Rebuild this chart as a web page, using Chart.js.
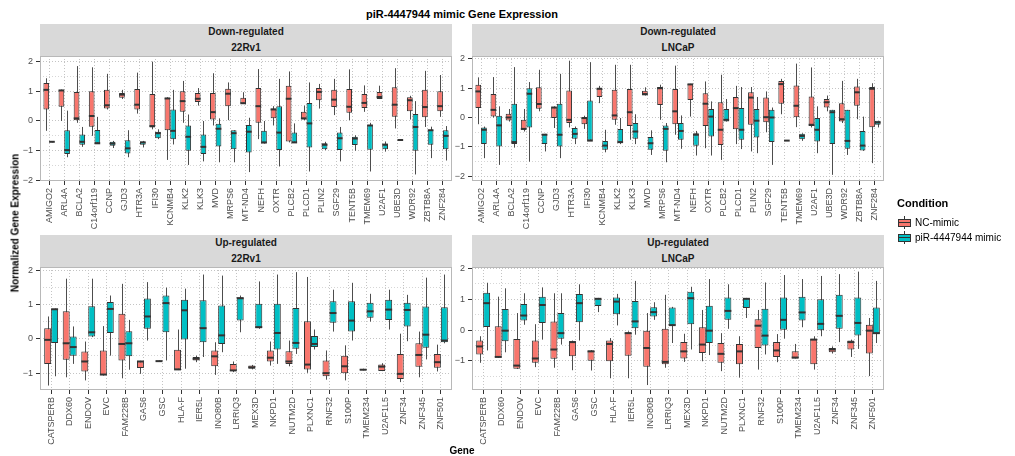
<!DOCTYPE html>
<html><head><meta charset="utf-8"><title>piR-4447944 mimic Gene Expression</title>
<script src="https://cdn.jsdelivr.net/npm/chart.js@4.4.1/dist/chart.umd.min.js"></script>
<style>
html,body{margin:0;padding:0;background:#fff;}
#fig{position:relative;width:1015px;height:456px;overflow:hidden;background:#fff;font-family:"Liberation Sans",Arial,sans-serif;color:#000;}
#fig canvas{position:absolute;}
.title{position:absolute;left:40px;width:844px;top:7px;text-align:center;font-weight:bold;font-size:11px;line-height:14px;}
.strip{position:absolute;width:412px;height:32px;background:#d9d9d9;text-align:center;font-weight:bold;font-size:10px;color:#1a1a1a;}
.strip div{height:16px;line-height:16px;}
.ytitle{position:absolute;left:15px;top:223px;transform:translate(-50%,-50%) rotate(-90deg);white-space:nowrap;font-weight:bold;font-size:10px;}
.xtitle{position:absolute;left:462px;top:450px;transform:translate(-50%,-50%);font-weight:bold;font-size:10px;}
.lgtitle{position:absolute;left:897px;top:196px;font-weight:bold;font-size:11px;line-height:14px;}
.key{position:absolute;left:897px;width:15px;height:15px;}
.key .wh{position:absolute;left:7px;top:1px;width:1px;height:13px;background:#333;}
.key .bx{position:absolute;left:1px;top:4px;width:11px;height:6px;border:1px solid #333;}
.key .md{position:absolute;left:1px;top:7px;width:13px;height:1px;background:#333;}
.lglab{position:absolute;left:915px;font-size:10px;line-height:15px;color:#000;white-space:nowrap;}
</style></head>
<body>
<div id="fig">
  <div class="title">piR-4447944 mimic Gene Expression</div>
  <div class="strip" style="left:40px;top:24px"><div>Down-regulated</div><div>22Rv1</div></div>
  <div class="strip" style="left:472px;top:24px"><div>Down-regulated</div><div>LNCaP</div></div>
  <div class="strip" style="left:40px;top:235px"><div>Up-regulated</div><div>22Rv1</div></div>
  <div class="strip" style="left:472px;top:235px"><div>Up-regulated</div><div>LNCaP</div></div>
  <canvas id="cTL"></canvas>
  <canvas id="cTR"></canvas>
  <canvas id="cBL"></canvas>
  <canvas id="cBR"></canvas>
  <div class="ytitle">Normalized Gene Expression</div>
  <div class="xtitle">Gene</div>
  <div class="lgtitle">Condition</div>
  <div class="key" style="top:215px"><div class="wh"></div><div class="bx" style="background:#F8766D"></div><div class="md"></div></div>
  <div class="lglab" style="top:215px">NC-mimic</div>
  <div class="key" style="top:230px"><div class="wh"></div><div class="bx" style="background:#00BFC4"></div><div class="md"></div></div>
  <div class="lglab" style="top:230px">piR-4447944 mimic</div>
</div>
<script>
// ---------------- DATA ----------------
const conditions = ['NC-mimic', 'piR-4447944 mimic'];
const conditionColors = ['#F8766D', '#00BFC4'];
const downGenes = ['AMIGO2','ARL4A','BCLA2','C14orf119','CCNP','GJD3','HTR3A','IFI30','KCNMB4','KLK2','KLK3','MVD','MRPS6','MT-ND4','NEFH','OXTR','PLCB2','PLCD1','PLIN2','SGF29','TENT5B','TMEM69','U2AF1','UBE3D','WDR92','ZBTB8A','ZNF284'];
const upGenes = ['CATSPERB','DDX60','ENDOV','EVC','FAM228B','GAS6','GSC','HLA-F','IER5L','INO80B','LRRIQ3','MEX3D','NKPD1','NUTM2D','PLXNC1','RNF32','S100P','TMEM234','U2AF1L5','ZNF34','ZNF345','ZNF501'];
const yTickValues = [-2,-1.5,-1,-0.5,0,0.5,1,1.5,2];

// box statistics per gene: [min, q1, median, q3, max]
const down22Rv1_NC = [
 [-0.34,0.38,1.04,1.27,1.43],[-0.01,0.47,1.02,1.04,1.05],[-0.07,0.02,0.08,0.97,1.84],[-0.51,-0.2,0.16,0.99,1.8],
 [0.38,0.41,0.52,1.04,1.58],[0.73,0.77,0.88,0.93,1.04],[0.24,0.38,0.54,1.07,1.62],[-0.29,-0.23,-0.18,0.9,1.99],
 [-1.32,-0.32,0.75,0.77,0.79],[-0.07,0.3,0.66,0.99,1.34],[0.51,0.63,0.74,0.93,1.1],[-0.16,0.04,0.29,0.93,1.6],
 [0.02,0.49,0.91,1.08,1.29],[0.57,0.58,0.59,0.77,0.96],[-0.62,-0.07,0.49,1.1,1.74],[-0.16,0.08,0.38,0.41,0.49],
 [-0.73,-0.7,0.74,1.18,1.66],[0.02,0.04,0.08,0.3,0.51],[0.41,0.69,0.97,1.1,1.24],[0.19,0.46,0.71,1.04,1.41],
 [0.02,0.27,0.47,1.07,1.73],[0.3,0.43,0.6,0.9,1.19],[0.73,0.73,0.8,0.97,1.18],[-0.26,0.13,0.54,1.13,1.77],
 [0.04,0.32,0.69,0.79,0.84],[-0.21,0.12,0.46,1.04,1.68],[0.13,0.32,0.49,0.99,1.54]];
const down22Rv1_PI = [
 [-0.73,-0.72,-0.71,-0.7,-0.69],[-1.23,-1.12,-0.99,-0.32,0.34],[-0.88,-0.81,-0.71,-0.46,-0.21],[-0.77,-0.76,-0.76,-0.31,0.13],
 [-0.92,-0.84,-0.77,-0.71,-0.68],[-1.23,-1.1,-0.93,-0.66,-0.32],[-0.9,-0.81,-0.73,-0.7,-0.68],[-0.62,-0.59,-0.42,-0.37,-0.29],
 [-0.8,-0.62,-0.34,0.38,1.04],[-1.49,-1.01,-0.54,-0.16,0.21],[-1.37,-1.12,-0.88,-0.46,-0.01],[-1.4,-0.87,-0.27,-0.1,0.08],
 [-1.4,-0.96,-0.42,-0.32,-0.32],[-1.73,-1.07,-0.37,-0.14,0.1],[-0.77,-0.77,-0.73,-0.34,-0.01],[-1.54,-0.99,-0.4,0.49,1.41],
 [-0.73,-0.73,-0.73,-0.4,-0.09],[-1.71,-0.9,-0.09,0.6,1.29],[-0.99,-0.96,-0.81,-0.76,-0.71],[-1.37,-0.99,-0.59,-0.4,-0.21],
 [-1.01,-0.82,-0.6,-0.54,-0.49],[-1.71,-0.98,-0.16,-0.14,-0.07],[-1.04,-0.96,-0.81,-0.77,-0.7],[-0.67,-0.66,-0.65,-0.64,-0.63],
 [-1.81,-1.01,-0.21,0.23,0.66],[-1.26,-0.81,-0.32,-0.31,-0.2],[-1.34,-0.96,-0.51,-0.32,-0.18]];
const downLNCaP_NC = [
 [-0.23,0.32,0.89,1.12,1.37],[0,0.03,0.26,0.8,1.38],[-0.14,-0.1,0,0.13,0.29],[-0.48,-0.42,-0.39,-0.08,0.29],
 [0.21,0.3,0.46,1.03,1.63],[-0.36,-0.02,0.34,0.35,0.38],[-0.34,-0.19,-0.08,0.92,1.94],[-0.39,-0.23,-0.02,0.01,0.06],
 [0.49,0.7,0.98,1.0,1.08],[-0.25,-0.08,0.07,0.95,1.8],[-0.76,-0.29,0.18,0.97,1.8],[0.75,0.75,0.8,0.91,1.03],
 [-0.08,0.43,1.0,1.04,1.12],[-0.59,-0.23,0.21,0.97,1.77],[0.03,0.6,1.13,1.14,1.15],[-1.05,-0.29,0.47,0.83,1.23],
 [-1.45,-0.94,-0.42,0.52,1.46],[-0.91,-0.4,0.32,0.7,1.08],[-1.16,-0.25,0.68,0.86,1.04],[-0.5,-0.16,0.01,0.68,0.89],
 [0.11,0.47,1.14,1.25,1.32],[-0.33,0.01,0.4,1.09,1.84],[-0.34,-0.29,-0.25,0.72,1.71],[0.21,0.34,0.52,0.63,0.75],
 [-0.19,-0.14,-0.06,0.49,1.25],[-0.06,0.4,0.86,1.06,1.32],[-1.56,-0.33,0.98,1.04,1.17]];
const downLNCaP_PI = [
 [-1.39,-0.91,-0.42,-0.34,-0.31],[-1.62,-0.99,-0.27,0.06,0.38],[-1.03,-0.91,-0.84,0.47,1.72],[-1.51,-0.34,0.81,1.0,1.21],
 [-1.16,-0.91,-0.59,-0.56,-0.56],[-1.39,-0.99,-0.59,0.47,1.49],[-0.91,-0.73,-0.56,-0.36,-0.31],[-0.8,-0.79,-0.79,0.58,1.89],
 [-1.19,-1.1,-0.96,-0.8,-0.42],[-0.91,-0.88,-0.84,-0.39,-0.02],[-0.91,-0.73,-0.48,-0.19,0.11],[-1.28,-1.1,-0.88,-0.67,-0.44],
 [-1.53,-1.14,-0.39,-0.27,-0.19],[-1.07,-0.76,-0.46,-0.19,0.07],[-1.3,-0.97,-0.59,-0.54,-0.46],[-1.3,-0.65,0.03,0.29,0.55],
 [-0.14,-0.14,-0.08,0.29,0.63],[-1.08,-0.76,-0.42,0.32,1.04],[-1.22,-0.68,-0.11,0.29,0.7],[-1.62,-0.84,0,0.26,0.34],
 [-0.8,-0.79,-0.79,-0.78,-0.77],[-0.8,-0.74,-0.63,-0.56,-0.54],[-1.22,-0.82,-0.42,-0.02,0.38],[-1.96,-0.91,0.18,0.26,0.26],
 [-1.28,-1.07,-0.8,0.26,0.26],[-1.14,-1.13,-0.96,-0.46,0.03],[-0.34,-0.25,-0.17,-0.11,-0.11]];
const up22Rv1_NC = [
 [-1.36,-0.73,-0.03,0.31,0.65],[-1.12,-0.61,-0.13,0.8,1.75],[-1.21,-0.95,-0.66,-0.37,-0.08],[-1.07,-1.05,-1.04,-0.34,0.37],
 [-1.15,-0.63,-0.15,0.73,1.6],[-1.02,-0.85,-0.66,-0.65,-0.64],[-0.67,-0.66,-0.65,-0.64,-0.63],[-0.91,-0.9,-0.89,-0.32,0.27],
 [-0.68,-0.63,-0.58,-0.53,-0.49],[-1.05,-0.8,-0.51,-0.34,-0.1],[-0.97,-0.94,-0.92,-0.73,-0.66],[-0.89,-0.87,-0.83,-0.78,-0.76],
 [-0.78,-0.66,-0.55,-0.34,-0.08],[-0.8,-0.73,-0.66,-0.36,-0.05],[-0.99,-0.89,-0.75,0.51,1.8],[-1.19,-1.09,-1.0,-0.63,-0.34],
 [-1.21,-1.0,-0.8,-0.49,-0.19],[-0.92,-0.91,-0.9,-0.88,-0.87],[-0.94,-0.94,-0.81,-0.75,-0.71],[-1.26,-1.17,-1.02,-0.44,0.15],
 [-1.12,-0.81,-0.47,-0.13,0.21],[-0.95,-0.84,-0.68,-0.44,-0.17]];
const up22Rv1_PI = [
 [-1.09,-0.12,0.86,0.87,0.88],[-0.73,-0.49,-0.24,0.07,0.36],[0.05,0.07,0.19,0.95,1.75],[-0.49,0.17,0.87,1.07,1.26],
 [-0.9,-0.51,-0.13,0.22,0.55],[-0.05,0.29,0.65,1.17,1.65],[-0.63,0.19,1.04,1.26,1.49],[-0.87,-0.02,0.83,1.14,1.46],
 [-0.53,-0.1,0.31,1.12,1.87],[-0.39,-0.15,0.1,0.97,1.84],[0.19,0.53,1.18,1.21,1.26],[0.29,0.31,0.34,1.02,1.67],
 [-0.73,-0.31,0.17,1.02,1.87],[-0.44,-0.29,-0.12,0.9,1.94],[-0.31,-0.24,-0.15,0.08,0.27],[0.21,0.47,0.75,1.09,1.43],
 [-0.05,0.21,0.53,1.09,1.63],[0.5,0.61,0.8,1.05,1.31],[0.27,0.55,0.85,1.14,1.43],[-0.07,0.36,0.84,1.05,1.28],
 [-0.6,-0.26,0.12,0.94,1.78],[-0.13,-0.1,-0.05,0.92,1.87]];
const upLNCaP_NC = [
 [-1.06,-0.79,-0.53,-0.34,-0.2],[-0.9,-0.88,-0.87,0.12,1.08],[-1.26,-1.25,-1.15,-0.29,0.55],[-1.2,-1.06,-0.92,-0.34,0.19],
 [-1.22,-0.93,-0.63,0.28,1.19],[-1.3,-0.85,-0.39,-0.36,-0.34],[-1.31,-0.99,-0.69,-0.66,-0.65],[-1.56,-1.01,-0.45,-0.34,-0.26],
 [-1.56,-0.83,-0.1,-0.08,-0.04],[-1.78,-1.19,-0.58,-0.02,0.55],[-1.22,-1.11,-1.03,0.04,1.14],[-1.03,-0.92,-0.69,-0.39,-0.12],
 [-1.01,-0.74,-0.47,0.09,0.65],[-1.33,-1.06,-0.77,-0.42,-0.1],[-1.54,-1.11,-0.69,-0.45,-0.2],[-1.28,-0.58,0.14,0.35,0.65],
 [-1.04,-0.87,-0.66,-0.39,-0.13],[-0.92,-0.92,-0.89,-0.69,-0.45],[-1.28,-1.11,-0.31,-0.28,-0.2],[-0.76,-0.72,-0.63,-0.58,-0.53],
 [-0.87,-0.63,-0.39,-0.34,-0.31],[-1.49,-0.76,-0.02,0.17,0.39]];
const upLNCaP_PI = [
 [-0.66,0.1,0.87,1.21,1.53],[-0.72,-0.36,-0.02,0.68,1.35],[0.17,0.31,0.47,0.84,1.19],[-0.31,0.23,0.81,1.08,1.38],
 [-0.47,-0.28,-0.1,0.55,1.19],[-0.34,0.25,0.87,1.17,1.48],[0.58,0.78,1.01,1.03,1.04],[0.15,0.51,0.92,1.05,1.17],
 [-0.15,0.06,0.28,0.94,1.59],[0.33,0.44,0.58,0.74,0.9],[-0.42,0.14,0.16,0.73,0.75],[-0.63,0.19,1.03,1.24,1.4],
 [-0.81,-0.42,-0.02,0.79,1.65],[0.04,0.33,0.62,1.05,1.48],[0.39,0.71,1.01,1.03,1.04],[-0.79,-0.5,-0.18,0.69,1.54],
 [-0.28,0.01,0.33,1.05,1.78],[0.09,0.31,0.57,1.08,1.65],[-0.2,-0.01,0.2,1.0,1.75],[-0.39,0.04,0.46,1.14,1.81],
 [-0.61,-0.18,0.23,1.05,1.89],[-0.42,-0.12,-0.1,0.73,1.59]];

// ---------------- LAYOUT ----------------
const panels = [
  {id:'cTL', genes:downGenes, nc:down22Rv1_NC, pi:down22Rv1_PI, yMin:-2.03, yMax:2.18, left:0,   top:46,  areaH:125, xAxisH:52},
  {id:'cTR', genes:downGenes, nc:downLNCaP_NC, pi:downLNCaP_PI, yMin:-2.17, yMax:2.10, left:432, top:46,  areaH:125, xAxisH:52},
  {id:'cBL', genes:upGenes,   nc:up22Rv1_NC,   pi:up22Rv1_PI,   yMin:-1.49, yMax:2.09, left:0,   top:257, areaH:123, xAxisH:62},
  {id:'cBR', genes:upGenes,   nc:upLNCaP_NC,   pi:upLNCaP_PI,   yMin:-1.94, yMax:2.04, left:432, top:257, areaH:123, xAxisH:62}
];
const AXIS_W = 40, PAD_TOP = 10, PAD_RIGHT = 10, AREA_W = 412;

Chart.defaults.font.family = '"Liberation Sans", Arial, sans-serif';

const framePlugin = {
  id: 'frame',
  afterDraw(chart) {
    const a = chart.chartArea, c = chart.ctx;
    c.save();
    c.strokeStyle = '#b8b8b8';
    c.lineWidth = 1;
    c.strokeRect(Math.round(a.left) + 0.5, Math.round(a.top) + 0.5, Math.round(a.right - a.left) - 1, Math.round(a.bottom - a.top) - 1);
    c.restore();
  }
};

const boxPlugin = {
  id: 'boxparts',
  beforeDatasetsDraw(chart) {
    const c = chart.ctx, ys = chart.scales.y;
    c.save();
    c.strokeStyle = '#4d4d4d';
    c.lineWidth = 1;
    chart.data.datasets.forEach((ds, di) => {
      chart.getDatasetMeta(di).data.forEach((bar, i) => {
        const s = ds.stats[i];
        const x = Math.round(bar.x) + 0.5;
        c.beginPath();
        c.moveTo(x, ys.getPixelForValue(s[0]));
        c.lineTo(x, ys.getPixelForValue(s[4]));
        c.stroke();
      });
    });
    c.restore();
  },
  afterDatasetsDraw(chart) {
    const c = chart.ctx, ys = chart.scales.y;
    c.save();
    c.strokeStyle = '#333333';
    c.lineWidth = 2;
    chart.data.datasets.forEach((ds, di) => {
      chart.getDatasetMeta(di).data.forEach((bar, i) => {
        const s = ds.stats[i];
        const y = ys.getPixelForValue(s[2]);
        c.beginPath();
        c.moveTo(bar.x - bar.width / 2, y);
        c.lineTo(bar.x + bar.width / 2, y);
        c.stroke();
      });
    });
    c.restore();
  }
};

function fmtY(v) {
  if (!Number.isInteger(v)) return '';
  return v < 0 ? '\u2212' + (-v) : String(v);
}

function makeChart(p) {
  const cv = document.getElementById(p.id);
  const W = AXIS_W + AREA_W + PAD_RIGHT;
  const H = PAD_TOP + p.areaH + p.xAxisH;
  cv.width = W; cv.height = H;
  cv.style.left = p.left + 'px'; cv.style.top = p.top + 'px';
  cv.style.width = W + 'px'; cv.style.height = H + 'px';
  const mk = (stats, ci) => ({
    label: conditions[ci],
    data: p.genes.map((g, i) => ({x: i, y: [stats[i][1], stats[i][3]]})),
    stats: stats,
    backgroundColor: conditionColors[ci],
    borderColor: '#333333',
    borderWidth: 1,
    borderSkipped: false,
    categoryPercentage: 0.75,
    barPercentage: 1.0
  });
  new Chart(cv, {
    type: 'bar',
    data: {datasets: [mk(p.nc, 0), mk(p.pi, 1)]},
    options: {
      responsive: false, animation: false, events: [],
      layout: {padding: {top: PAD_TOP, right: PAD_RIGHT, bottom: 0, left: 0}},
      plugins: {legend: {display: false}, tooltip: {enabled: false}},
      scales: {
        x: {
          type: 'linear', offset: false, bounds: 'data',
          min: -0.6, max: p.genes.length - 0.4,
          afterBuildTicks: ax => { ax.ticks = p.genes.map((g, i) => ({value: i})); },
          afterFit: ax => { ax.height = p.xAxisH; },
          grid: {offset: false, color: '#c4c4c4', lineWidth: 1, drawTicks: true, tickLength: 4, tickColor: '#333333', tickWidth: 1, tickBorderDash: []},
          border: {display: false, dash: [1, 2]},
          ticks: {autoSkip: false, maxRotation: 90, minRotation: 90, padding: 3, color: '#4d4d4d',
                  font: {size: 9}, callback: v => (p.genes[v] !== undefined ? p.genes[v] : '')}
        },
        y: {
          type: 'linear', bounds: 'data', min: p.yMin, max: p.yMax,
          afterBuildTicks: ax => { ax.ticks = yTickValues.filter(v => v >= p.yMin && v <= p.yMax).map(v => ({value: v})); },
          afterFit: ax => { ax.width = AXIS_W; },
          grid: {color: ctx => (ctx.tick && Number.isInteger(ctx.tick.value)) ? '#c4c4c4' : '#d6d6d6',
                 lineWidth: 1, drawTicks: true, tickLength: 4, tickWidth: 1, tickBorderDash: [],
                 tickColor: ctx => (ctx.tick && Number.isInteger(ctx.tick.value)) ? '#333333' : 'rgba(0,0,0,0)'},
          border: {display: false, dash: [1, 2]},
          ticks: {padding: 3, color: '#4d4d4d', font: {size: 9}, callback: v => fmtY(v)}
        }
      }
    },
    plugins: [framePlugin, boxPlugin]
  });
}

panels.forEach(makeChart);
</script>
</body></html>
